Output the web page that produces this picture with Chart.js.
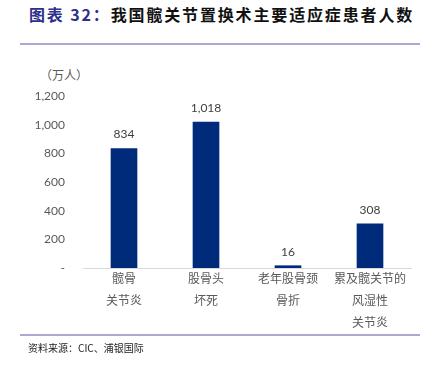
<!DOCTYPE html>
<html>
<head>
<meta charset="utf-8">
<script src="https://cdn.jsdelivr.net/npm/chart.js@4.4.0/dist/chart.umd.min.js"></script>
<style>
  body { margin: 0; background: #fff; }
  #wrap { position: relative; width: 430px; height: 365px; overflow: hidden; }
  #title { position: absolute; left: 29px; top: 2px; font: bold 16px "Noto Sans CJK SC"; letter-spacing: 1.85px; color: #111; white-space: nowrap; }
  #title .tag { color: #2e2e8c; }
  .rule { position: absolute; left: 20px; width: 400px; height: 2px; background: #a9a9d2; }
  #unit { position: absolute; left: 40px; top: 66px; font: 12px "Noto Sans CJK SC"; color: #595959; }
  #source { position: absolute; left: 28px; top: 340px; font: 10px "Noto Sans CJK SC"; color: #222; }
  canvas { position: absolute; left: 0; top: 0; }
</style>
</head>
<body>
<div id="wrap">
  <div id="title"><span class="tag">图表 32：</span>我国髋关节置换术主要适应症患者人数</div>
  <div class="rule" style="top:43px"></div>
  <div id="unit">（万人）</div>
  <canvas id="chart" width="430" height="365"></canvas>
  <div class="rule" style="top:334px"></div>
  <div id="source">资料来源：CIC、浦银国际</div>
</div>
<script>
const categories = [['髋骨', '关节炎'], ['股骨头', '坏死'], ['老年股骨颈', '骨折'], ['累及髋关节的', '风湿性', '关节炎']];
const patients = [834, 1018, 16, 308];
const yTicks = [0, 200, 400, 600, 800, 1000, 1200];

const valueLabels = {
  id: 'valueLabels',
  afterDatasetsDraw(chart) {
    const ctx = chart.ctx;
    ctx.save();
    ctx.font = '12px Lato';
    ctx.fillStyle = '#404040';
    ctx.textAlign = 'center';
    ctx.textBaseline = 'bottom';
    chart.getDatasetMeta(0).data.forEach((bar, i) => {
      ctx.fillText(patients[i].toLocaleString('en-US'), bar.x, bar.y - 8);
    });
    ctx.restore();
  }
};

new Chart(document.getElementById('chart'), {
  type: 'bar',
  data: {
    labels: categories,
    datasets: [{
      data: patients,
      backgroundColor: '#002b7a',
      barThickness: 26
    }]
  },
  options: {
    responsive: false,
    animation: false,
    layout: { padding: { top: 96, right: 19, left: 0, bottom: 0 } },
    plugins: { legend: { display: false }, tooltip: { enabled: false } },
    scales: {
      x: {
        grid: { display: false, drawTicks: false },
        border: { display: true, color: '#d9d9d9', width: 1 },
        ticks: { color: '#595959', font: { family: 'Noto Sans CJK SC', size: 12, lineHeight: 1.8 }, padding: 0, maxRotation: 0 },
        afterFit(s) { s.height = 97; }
      },
      y: {
        min: 0,
        max: 1200,
        grid: { display: false, drawTicks: false },
        border: { display: false },
        afterBuildTicks(s) { s.ticks = yTicks.map(v => ({ value: v })); },
        ticks: {
          color: '#595959',
          font: { family: 'Lato', size: 12 },
          padding: 18,
          callback: v => v === 0 ? '-' : v.toLocaleString('en-US')
        },
        afterFit(s) { s.width = 83; }
      }
    }
  },
  plugins: [valueLabels]
});
</script>
</body>
</html>
